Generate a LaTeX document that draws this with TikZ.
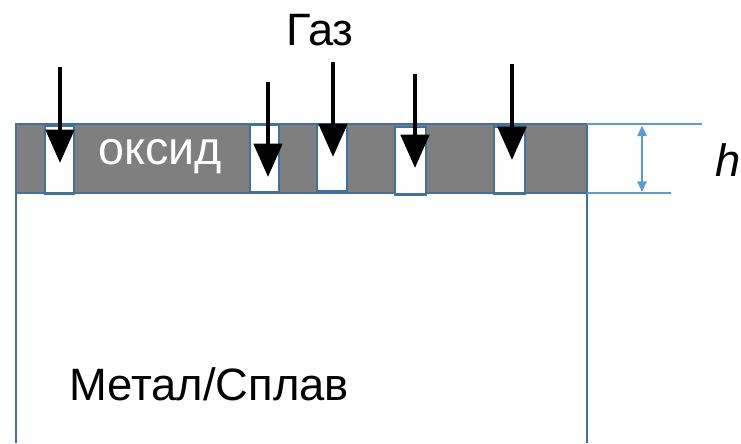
\documentclass[tikz,border=0pt]{standalone}
\usepackage{fontspec}
\setmainfont{Liberation Sans}
\usetikzlibrary{arrows.meta}
\definecolor{edgeblue}{RGB}{65,113,156}
\definecolor{dimblue}{RGB}{91,155,213}
\definecolor{oxgray}{RGB}{127,127,127}
\tikzset{
  pore/.style={draw=edgeblue,fill=white,line width=2pt,inner sep=0pt,minimum height=50.5pt},
  gasflow/.style={line width=3.6pt,-{Triangle[length=25pt,width=21pt]}},
  dimline/.style={draw=dimblue,line width=1.3pt},
  bigtext/.style={font=\fontsize{34}{40}\selectfont,inner sep=0pt}
}
\begin{document}
\begin{tikzpicture}[x=0.75pt,y=0.75pt,yscale=-1,xscale=1]
\useasboundingbox (0,0) rectangle (741,443);

%Shape: Rectangle (oxide layer)
\draw [draw=edgeblue,fill=oxgray,line width=2pt] (16,124) rectangle (587,193) ;
%Straight Lines (metal walls)
\draw [draw=edgeblue,line width=2pt] (16,193) -- (16,443) ;
\draw [draw=edgeblue,line width=2pt] (587,193) -- (587,443) ;

%Shape: Pores
\node [pore,minimum width=21.75pt] (p1) at (59.5,159.5) {};
\node [pore,minimum width=21.75pt] (p2) at (264.5,158.5) {};
\node [pore,minimum width=22.5pt] (p3) at (332,158) {};
\node [pore,minimum width=23.25pt] (p4) at (410.5,160.5) {};
\node [pore,minimum width=23.25pt] (p5) at (509.5,160) {};

%Straight Lines (gas arrows)
\coordinate (g1) at (60,67);   \coordinate (t1) at (60,163);
\coordinate (g2) at (268,82);  \coordinate (t2) at (268,177);
\coordinate (g3) at (333,62);  \coordinate (t3) at (333,157);
\coordinate (g4) at (415,74);  \coordinate (t4) at (415,168);
\coordinate (g5) at (512,64);  \coordinate (t5) at (512,160);
\foreach \i in {1,...,5}
  \draw [gasflow] (g\i) -- (t\i) ;

%Straight Lines (thickness dimension)
\coordinate (dt0) at (587,124); \coordinate (dt1) at (702,124);
\coordinate (db0) at (587,193); \coordinate (db1) at (671,193);
\coordinate (da) at (642,125.5); \coordinate (db) at (642,192);
\draw [dimline] (dt0) -- (dt1) ;
\draw [dimline] (db0) -- (db1) ;
\draw [dimline,{Triangle[length=8pt,width=7pt]}-{Triangle[length=8pt,width=7pt]},fill=dimblue] (da) -- (db) ;

% Text Node
\node [bigtext] (gas) at (320,30) {Газ};
% Text Node
\node [bigtext,font=\fontsize{35}{40}\selectfont,text=white] (oxide) at (160,157) {оксид};
% Text Node
\node [bigtext] (metal) at (209,384) {Метал/Сплав};
% Text Node
\node [bigtext,font=\fontsize{34}{40}\selectfont\itshape] (thick) at (728,160) {h};

\end{tikzpicture}
\end{document}
